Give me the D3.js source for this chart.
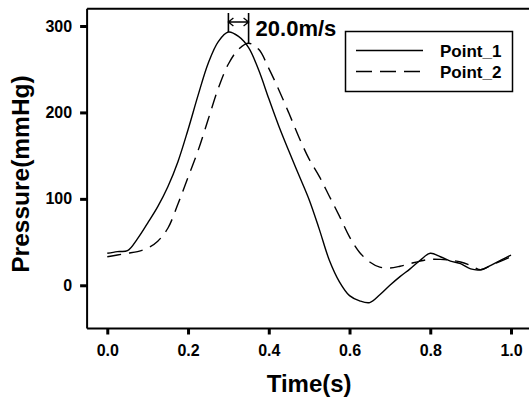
<!DOCTYPE html>
<html>
<head>
<meta charset="utf-8">
<script src="https://cdn.jsdelivr.net/npm/d3@7"></script>
<style>
  body { margin: 0; background: #fff; }
  svg text { font-family: "Liberation Sans", Arial, sans-serif; font-weight: bold; fill: #000; }
</style>
</head>
<body>
<div id="chart"></div>
<script>
// time samples (s)
const times = [0.00, 0.025, 0.05, 0.075, 0.10, 0.125, 0.15, 0.175, 0.20, 0.225,
    0.25, 0.275, 0.30, 0.325, 0.35, 0.375, 0.40, 0.425, 0.45, 0.475,
    0.50, 0.525, 0.55, 0.575, 0.60, 0.625, 0.65, 0.675, 0.70, 0.725,
    0.75, 0.775, 0.80, 0.825, 0.85, 0.875, 0.90, 0.925, 0.95, 0.975, 1.00];
// pressure (mmHg)
const point1 = [37, 39, 40, 54, 72, 91, 114, 143, 180, 220,
    257, 282, 293, 288, 275, 249, 216, 184, 155, 127,
    99, 65, 29, 4, -12, -18, -20, -11, 0, 10,
    19, 29, 37, 33, 28, 25, 19, 18, 23, 29, 35];
const point2 = [33, 35, 37, 39, 43, 51, 66, 94, 125, 156,
    192, 228, 256, 273, 280, 273, 251, 226, 199, 171,
    146, 126, 103, 80, 56, 38, 27, 21, 20, 22,
    25, 28, 30, 30, 29, 27, 23, 18, 23, 28, 33];
const seriesNames = ["Point_1", "Point_2"];
const xTicks = [0.0, 0.2, 0.4, 0.6, 0.8, 1.0];
const yTicks = [0, 100, 200, 300];
const speedLabel = "20.0m/s";

const width = 529, height = 401;

const svg = d3.select("#chart")
    .append("svg")
    .attr("width", width)
    .attr("height", height);

let x = d3.scaleLinear()
    .domain([-0.05, 1.05])
    .range([87.1, 531.2]);
let y = d3.scaleLinear()
    .domain([-50, 320])
    .range([328.5, 8.7]);

// frame (top border, right side falls outside the window)
svg.append("path")
    .attr("d", `M${x(-0.05)},${y(320)}H${x(1.05)}V${y(-50)}`)
    .attr("fill", "none")
    .attr("stroke", "#000")
    .attr("stroke-width", 2);

// axes
let xAxis = svg.append("g")
    .attr("transform", `translate(0, ${y(-50)})`)
    .call(d3.axisBottom(x).tickValues(xTicks).tickFormat(d3.format(".1f")).tickSize(6).tickPadding(10));
let yAxis = svg.append("g")
    .attr("transform", `translate(${x(-0.05)}, 0)`)
    .call(d3.axisLeft(y).tickValues(yTicks).tickFormat(d3.format("d")).tickSize(7).tickPadding(8));

[xAxis, yAxis].forEach(a => {
    a.select(".domain").attr("stroke", "#000").attr("stroke-width", 2);
    a.selectAll(".tick line").attr("stroke", "#000").attr("stroke-width", 3);
    a.selectAll(".tick text").style("font-size", "16px").style("font-family", "Liberation Sans, Arial, sans-serif").style("font-weight", "bold");
});
xAxis.select(".domain").attr("d", `M${x(-0.05)},0H${x(1.05)}`);
yAxis.select(".domain").attr("d", `M0,${y(-50)}V${y(320)}`);

// axis titles
svg.append("text")
    .attr("x", (x(-0.05) + x(1.05)) / 2)
    .attr("y", 392)
    .attr("text-anchor", "middle")
    .style("font-size", "24px")
    .text("Time(s)");
svg.append("text")
    .attr("transform", `translate(29, 174) rotate(-90)`)
    .attr("text-anchor", "middle")
    .style("font-size", "24.5px")
    .text("Pressure(mmHg)");

// curves
let line = d3.line()
    .x((d, i) => x(times[i]))
    .y(d => y(d))
    .curve(d3.curveCatmullRom.alpha(0.5));

svg.append("path")
    .attr("d", line(point1))
    .attr("fill", "none")
    .attr("stroke", "#000")
    .attr("stroke-width", 1.4);
svg.append("path")
    .attr("d", line(point2))
    .attr("fill", "none")
    .attr("stroke", "#000")
    .attr("stroke-width", 1.4)
    .attr("stroke-dasharray", "14,8");

// peak-to-peak annotation
let i1 = point1.indexOf(d3.max(point1));
let i2 = point2.indexOf(d3.max(point2));
let px1 = x(times[i1]), px2 = x(times[i2]);
let topY = 13, arrowY = 22;
svg.append("line")
    .attr("x1", px1).attr("x2", px1)
    .attr("y1", topY).attr("y2", y(point1[i1]))
    .attr("stroke", "#000").attr("stroke-width", 1.6);
svg.append("line")
    .attr("x1", px2).attr("x2", px2)
    .attr("y1", topY).attr("y2", y(point2[i2]))
    .attr("stroke", "#000").attr("stroke-width", 1.6);
svg.append("path")
    .attr("d", `M${px1},${arrowY}H${px2}M${px1 + 5},${arrowY - 4}L${px1},${arrowY}L${px1 + 5},${arrowY + 4}M${px2 - 5},${arrowY - 4}L${px2},${arrowY}L${px2 - 5},${arrowY + 4}`)
    .attr("fill", "none")
    .attr("stroke", "#000")
    .attr("stroke-width", 1.3);
svg.append("text")
    .attr("x", px2 + 7)
    .attr("y", 36)
    .style("font-size", "22px")
    .text(speedLabel);

// legend
let legend = svg.append("g");
legend.append("rect")
    .attr("x", 345.5).attr("y", 31.5)
    .attr("width", 167).attr("height", 60)
    .attr("fill", "#fff")
    .attr("stroke", "#000")
    .attr("stroke-width", 1.5);
seriesNames.forEach((name, i) => {
    let ly = 50.5 + i * 21;
    legend.append("line")
        .attr("x1", 356).attr("x2", 423)
        .attr("y1", ly).attr("y2", ly)
        .attr("stroke", "#000")
        .attr("stroke-width", 1.4)
        .attr("stroke-dasharray", i === 1 ? "16,8" : null);
    legend.append("text")
        .attr("x", 440)
        .attr("y", ly + 6)
        .style("font-size", "17px")
        .text(name);
});
</script>
</body>
</html>
